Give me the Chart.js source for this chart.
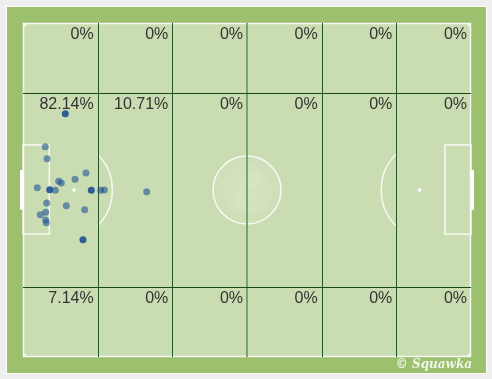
<!DOCTYPE html>
<html>
<head>
<meta charset="utf-8">
<script src="https://cdn.jsdelivr.net/npm/chart.js@4/dist/chart.umd.min.js"></script>
<style>
  html,body{margin:0;padding:0;background:#efefef;width:492px;height:379px;overflow:hidden;}
  #frame{position:absolute;left:6px;top:6px;width:479px;height:366px;background:#9dc06e;border:1px solid #ffffff;}
  #c{position:absolute;left:0;top:0;}
</style>
</head>
<body>
<div id="frame"></div>
<canvas id="c" width="492" height="379"></canvas>
<script>
// Pitch coordinates: x 0..100 (left to right), y 0..100 (top to bottom)
const goalX = [9.44, 5.96, 15.25, 13.39];
const goalY = [27.16, 49.91, 50.09, 64.88];
const shotX = [4.98, 5.36, 14.06, 11.61, 7.97, 8.55, 3.19, 7.21, 17.34, 18.15, 27.61, 5.29, 9.67, 13.77, 5.07, 3.86, 5.07, 5.20];
const shotY = [37.04, 40.63, 44.91, 46.80, 47.40, 47.90, 49.31, 50.09, 50.09, 50.00, 50.51, 53.89, 54.70, 55.90, 56.68, 57.39, 58.98, 59.79];
// Zone grid boundaries
const zoneColEdges = [0, 16.667, 33.333, 50, 66.667, 83.333, 100];
const zoneRowEdges = [0, 21, 79, 100];
// Zone percentage labels, row by row (top, middle, bottom)
const zoneTopRow = ["0%", "0%", "0%", "0%", "0%", "0%"];
const zoneMidRow = ["82.14%", "10.71%", "0%", "0%", "0%", "0%"];
const zoneBotRow = ["7.14%", "0%", "0%", "0%", "0%", "0%"];

const toPts = (xs, ys) => xs.map((x, i) => ({x: x, y: ys[i]}));

const pitchPlugin = {
  id: 'pitch',
  beforeDatasetsDraw(chart) {
    const {ctx, chartArea: a, scales: {x, y}} = chart;
    const X = v => x.getPixelForValue(v);
    const Y = v => y.getPixelForValue(v);
    ctx.save();
    // pitch fill
    ctx.fillStyle = '#cadcb1';
    ctx.fillRect(a.left, a.top, a.right - a.left, a.bottom - a.top);
    // white markings
    ctx.strokeStyle = 'rgba(255,255,255,0.85)';
    ctx.lineWidth = 1.5;
    ctx.strokeRect(a.left + 0.5, a.top + 0.5, a.right - a.left - 1, a.bottom - a.top - 1);
    // six-yard boxes
    ctx.strokeRect(X(0), Y(36.5), X(5.87) - X(0), Y(63.2) - Y(36.5));
    ctx.strokeRect(X(94.2), Y(36.5), X(100) - X(94.2), Y(63.2) - Y(36.5));
    // goals
    ctx.fillStyle = '#ffffff';
    ctx.fillRect(X(0) - 3, Y(44.0), 3, Y(55.9) - Y(44.0));
    ctx.fillRect(X(100), Y(44.0), 3, Y(55.9) - Y(44.0));
    // penalty spots
    ctx.fillRect(X(11.4) - 1.5, Y(50) - 1.5, 3, 3);
    ctx.fillRect(X(88.5) - 1.5, Y(50) - 1.5, 3, 3);
    // penalty arcs (clipped outside boxes)
    const rx = X(8.55) - X(0), ry = Y(13.5) - Y(0);
    ctx.save();
    ctx.beginPath(); ctx.rect(X(16.667), a.top, X(83.333) - X(16.667), a.bottom - a.top); ctx.clip();
    ctx.beginPath(); ctx.ellipse(X(11.4), Y(50), rx, ry, 0, 0, Math.PI * 2); ctx.stroke();
    ctx.beginPath(); ctx.ellipse(X(88.5), Y(50), rx, ry, 0, 0, Math.PI * 2); ctx.stroke();
    ctx.restore();
    // corner arcs
    const cr = 3;
    [[a.left, a.top, 0, Math.PI/2], [a.right, a.top, Math.PI/2, Math.PI], [a.right, a.bottom, Math.PI, 1.5*Math.PI], [a.left, a.bottom, 1.5*Math.PI, 2*Math.PI]].forEach(c => {
      ctx.beginPath(); ctx.arc(c[0], c[1], cr, c[2], c[3]); ctx.stroke();
    });
    // centre circle with faint watermark
    const ccx = X(50), ccy = Y(50), crad = 34;
    ctx.beginPath(); ctx.arc(ccx, ccy, crad, 0, Math.PI * 2);
    ctx.fillStyle = 'rgba(255,255,255,0.10)'; ctx.fill();
    ctx.stroke();
    ctx.beginPath(); ctx.arc(ccx, ccy, 25, 0, Math.PI * 2);
    ctx.fillStyle = 'rgba(255,255,255,0.08)'; ctx.fill();
    ctx.fillStyle = 'rgba(255,255,255,0.10)';
    ctx.beginPath(); ctx.arc(ccx - 2, ccy + 10, 11, Math.PI * 0.6, Math.PI * 1.9); ctx.arc(ccx + 4, ccy - 6, 12, Math.PI * 0.9, Math.PI * 0.2, true); ctx.closePath(); ctx.fill();
    ctx.beginPath(); ctx.arc(ccx + 5, ccy - 10, 9, Math.PI * 1.5, Math.PI * 0.6); ctx.arc(ccx - 3, ccy + 8, 10, Math.PI * 1.6, Math.PI * 1.1, true); ctx.closePath(); ctx.fill();
    // zone grid lines
    for (let i = 1; i < zoneColEdges.length - 1; i++) {
      const v = zoneColEdges[i];
      const px = Math.round(X(v));
      if (v === 50) { ctx.strokeStyle = '#78a471'; ctx.lineWidth = 2; ctx.beginPath(); ctx.moveTo(px, a.top); ctx.lineTo(px, a.bottom); ctx.stroke(); }
      else { ctx.strokeStyle = '#25562a'; ctx.lineWidth = 1; ctx.beginPath(); ctx.moveTo(px + 0.5, a.top); ctx.lineTo(px + 0.5, a.bottom); ctx.stroke(); }
    }
    ctx.strokeStyle = '#144a14'; ctx.lineWidth = 1;
    for (let j = 1; j < zoneRowEdges.length - 1; j++) {
      const py = Math.round(Y(zoneRowEdges[j])) + 0.5;
      ctx.beginPath(); ctx.moveTo(a.left, py); ctx.lineTo(a.right, py); ctx.stroke();
    }
    // zone labels
    ctx.fillStyle = '#333333';
    ctx.font = '16px "Liberation Sans", Arial, sans-serif';
    ctx.textAlign = 'right'; ctx.textBaseline = 'top';
    [zoneTopRow, zoneMidRow, zoneBotRow].forEach((row, r) => {
      row.forEach((t, c) => {
        ctx.fillText(t, X(zoneColEdges[c + 1]) - 4, Y(zoneRowEdges[r]) + 3.5);
      });
    });
    // brand text
    ctx.fillStyle = 'rgba(255,255,255,0.85)';
    ctx.font = 'italic bold 12px "DejaVu Serif", serif';
    ctx.textAlign = 'right'; ctx.textBaseline = 'middle';
    ctx.fillText('© Squawka', a.right + 1, a.bottom + 8);
    ctx.restore();
  }
};

new Chart(document.getElementById('c'), {
  type: 'scatter',
  data: {
    datasets: [
      { label: 'Shots', data: toPts(shotX, shotY), backgroundColor: 'rgba(31,85,150,0.6)', borderWidth: 0, pointRadius: 3.5, pointHoverRadius: 3.5 },
      { label: 'Goals', data: toPts(goalX, goalY), backgroundColor: 'rgba(31,82,150,0.92)', borderWidth: 0, pointRadius: 3.5, pointHoverRadius: 3.5 }
    ]
  },
  options: {
    responsive: false,
    animation: false,
    devicePixelRatio: 1,
    layout: { padding: { left: 23, top: 23, right: 21, bottom: 22 } },
    scales: {
      x: { type: 'linear', min: 0, max: 100, display: false },
      y: { type: 'linear', min: 0, max: 100, reverse: true, display: false }
    },
    plugins: { legend: { display: false }, tooltip: { enabled: false } }
  },
  plugins: [pitchPlugin]
});
</script>
</body>
</html>
